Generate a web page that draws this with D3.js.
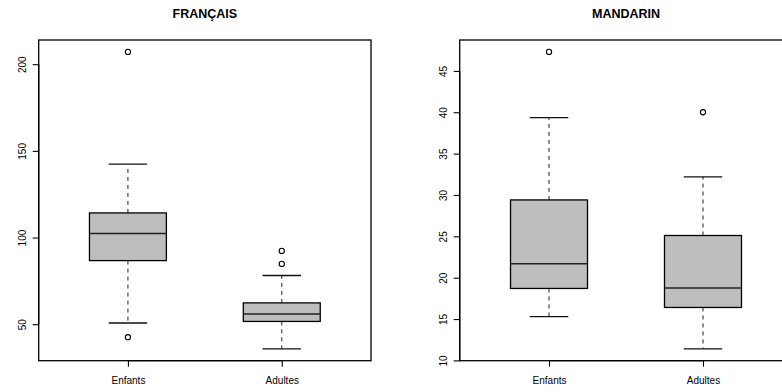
<!DOCTYPE html>
<html>
<head>
<meta charset="utf-8">
<script src="https://cdn.jsdelivr.net/npm/d3@7"></script>
<style>
  body { margin: 0; background: #fff; }
  svg { display: block; font-family: "Liberation Sans", Arial, sans-serif; }
</style>
</head>
<body>
<svg id="chart" width="782" height="392"></svg>
<script>
// ---- data ----
const groups = ["Enfants", "Adultes"];

const francaisTitle = "FRANÇAIS";
const francaisLow = [50.7, 35.8];
const francaisQ1 = [86.7, 51.6];
const francaisMedian = [102.3, 55.9];
const francaisQ3 = [114.2, 62.3];
const francaisHigh = [142.3, 78.1];
const francaisOutliers = [[207.1, 42.5], [92.3, 84.8]];
const francaisTicks = [50, 100, 150, 200];

const mandarinTitle = "MANDARIN";
const mandarinLow = [15.3, 11.4];
const mandarinQ1 = [18.7, 16.4];
const mandarinMedian = [21.7, 18.75];
const mandarinQ3 = [29.4, 25.1];
const mandarinHigh = [39.35, 32.2];
const mandarinOutliers = [[47.3], [40.0]];
const mandarinTicks = [10, 15, 20, 25, 30, 35, 40, 45];

// ---- drawing ----
const svg = d3.select("#chart");

function panel(cfg) {
  const { left, right, top, bottom, title, low, q1, med, q3, high, outs, ticks } = cfg;
  const g = svg.append("g");

  const allVals = low.concat(high, outs.flat());
  const dmin = d3.min(allVals), dmax = d3.max(allVals);
  const pad = (dmax - dmin) * 0.04;
  const y = d3.scaleLinear().domain([dmin - pad, dmax + pad]).range([bottom, top]);
  const x = d3.scaleLinear().domain([0.42, 2.58]).range([left, right]);

  const boxW = (x(2) - x(1)) * 0.5;
  const capW = boxW * 0.5;

  groups.forEach((name, i) => {
    const cx = x(i + 1);
    // whiskers (dashed)
    g.append("line").attr("x1", cx).attr("x2", cx).attr("y1", y(q3[i])).attr("y2", y(high[i]))
      .attr("stroke", "#222").attr("stroke-width", 1).attr("stroke-dasharray", "4,4");
    g.append("line").attr("x1", cx).attr("x2", cx).attr("y1", y(q1[i])).attr("y2", y(low[i]))
      .attr("stroke", "#222").attr("stroke-width", 1).attr("stroke-dasharray", "4,4");
    // caps
    g.append("line").attr("x1", cx - capW / 2).attr("x2", cx + capW / 2)
      .attr("y1", y(high[i])).attr("y2", y(high[i])).attr("stroke", "#111").attr("stroke-width", 1.3);
    g.append("line").attr("x1", cx - capW / 2).attr("x2", cx + capW / 2)
      .attr("y1", y(low[i])).attr("y2", y(low[i])).attr("stroke", "#111").attr("stroke-width", 1.3);
    // box
    g.append("rect").attr("x", cx - boxW / 2).attr("width", boxW)
      .attr("y", y(q3[i])).attr("height", y(q1[i]) - y(q3[i]))
      .attr("fill", "#bebebe").attr("stroke", "#000").attr("stroke-width", 1.3);
    // median
    g.append("line").attr("x1", cx - boxW / 2).attr("x2", cx + boxW / 2)
      .attr("y1", y(med[i])).attr("y2", y(med[i])).attr("stroke", "#222").attr("stroke-width", 1.5);
    // outliers
    outs[i].forEach(v => {
      g.append("circle").attr("cx", cx).attr("cy", y(v)).attr("r", 2.6)
        .attr("fill", "none").attr("stroke", "#000").attr("stroke-width", 1.1);
    });
  });

  // frame
  g.append("rect").attr("x", left).attr("y", top).attr("width", right - left).attr("height", bottom - top)
    .attr("fill", "none").attr("stroke", "#000").attr("stroke-width", 1.3);

  // y axis
  const yAxis = d3.axisLeft(y).tickValues(ticks).tickSize(6).tickFormat(d3.format("d"));
  const ya = g.append("g").attr("transform", `translate(${left},0)`).call(yAxis);
  ya.select(".domain").attr("d", `M-0,${y(ticks[0])}V${y(ticks[ticks.length - 1])}`).attr("stroke-width", 1.3);
  ya.selectAll(".tick line").attr("stroke-width", 1.1);
  ya.selectAll(".tick text")
    .attr("transform", "rotate(-90)")
    .attr("x", 0).attr("y", -13)
    .attr("dy", "0")
    .attr("text-anchor", "middle")
    .style("font-family", "'Liberation Sans', Arial, sans-serif")
    .style("font-size", "10px").attr("fill", "#000");

  // x axis
  const xAxis = d3.axisBottom(x).tickValues([1, 2]).tickSize(6).tickFormat((d, i) => groups[i]);
  const xa = g.append("g").attr("transform", `translate(0,${bottom})`).call(xAxis);
  xa.select(".domain").attr("d", `M${x(1)},0H${x(2)}`).attr("stroke-width", 1.3);
  xa.selectAll(".tick line").attr("stroke-width", 1.1);
  xa.selectAll(".tick text").attr("y", 23).attr("dy", "0")
    .style("font-family", "'Liberation Sans', Arial, sans-serif")
    .style("font-size", "10px").attr("fill", "#000");

  // title
  g.append("text").attr("x", (left + right) / 2).attr("y", 18)
    .attr("text-anchor", "middle").style("font-weight", "bold").style("font-size", "12.5px")
    .text(title);
}

panel({ left: 38.7, right: 371, top: 40, bottom: 360.7, title: francaisTitle,
  low: francaisLow, q1: francaisQ1, med: francaisMedian, q3: francaisQ3, high: francaisHigh,
  outs: francaisOutliers, ticks: francaisTicks });

panel({ left: 459.7, right: 792.3, top: 40, bottom: 360.7, title: mandarinTitle,
  low: mandarinLow, q1: mandarinQ1, med: mandarinMedian, q3: mandarinQ3, high: mandarinHigh,
  outs: mandarinOutliers, ticks: mandarinTicks });
</script>
</body>
</html>
